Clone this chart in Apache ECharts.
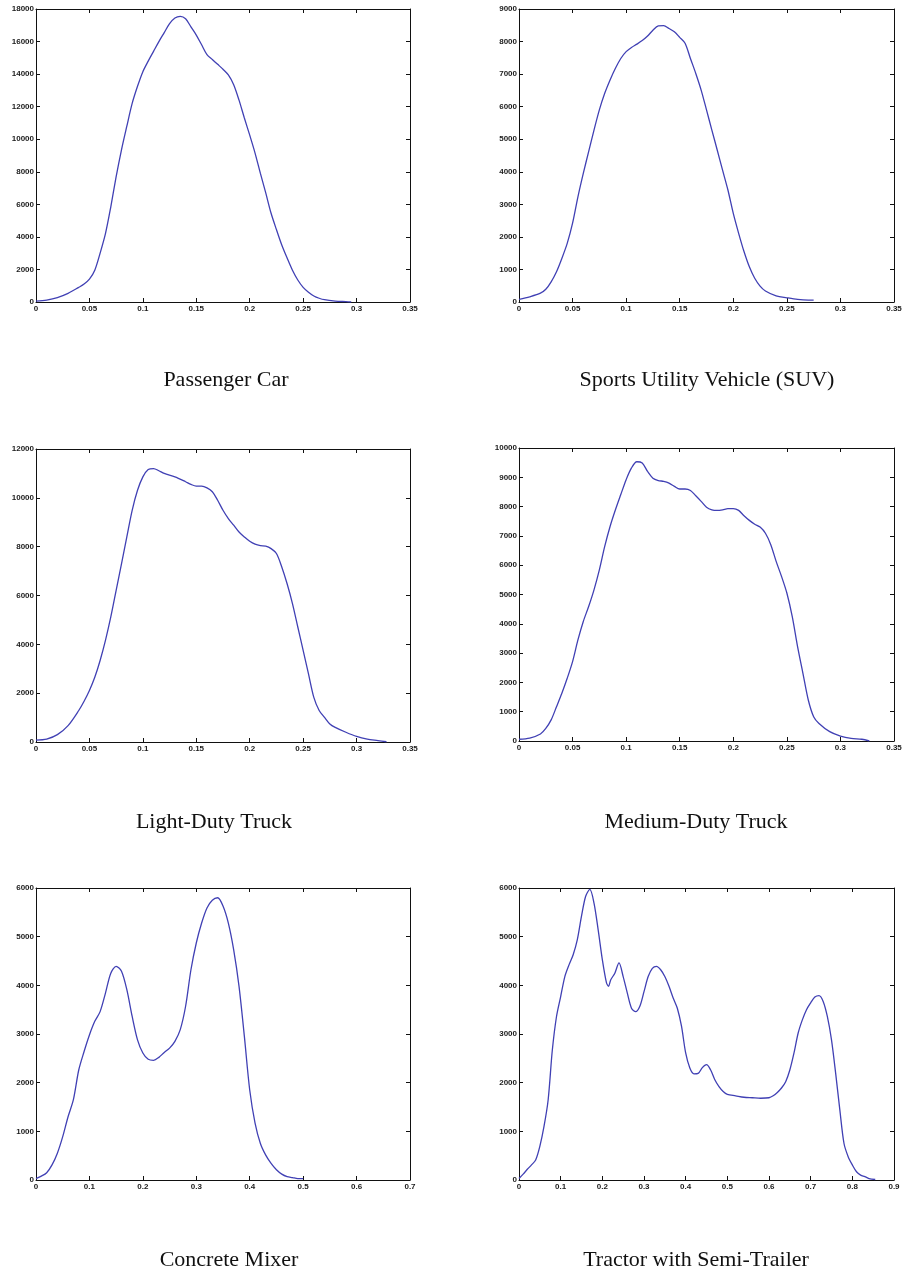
<!DOCTYPE html>
<html>
<head>
<meta charset="utf-8">
<script src="https://cdn.jsdelivr.net/npm/echarts@6/dist/echarts.min.js"></script>
<style>
  html, body { margin: 0; padding: 0; background: #ffffff; }
  #chart { width: 906px; height: 1278px; }
</style>
</head>
<body>
<div id="chart"></div>
<script>
// Passenger Car
const carX = [0, 0.01, 0.02, 0.03, 0.04, 0.045, 0.05, 0.055, 0.06, 0.065, 0.07, 0.075, 0.08, 0.085, 0.09, 0.095, 0.1, 0.105, 0.11, 0.115, 0.12, 0.125, 0.13, 0.135, 0.14, 0.145, 0.15, 0.155, 0.16, 0.165, 0.17, 0.175, 0.18, 0.185, 0.19, 0.195, 0.2, 0.205, 0.21, 0.215, 0.22, 0.225, 0.23, 0.235, 0.24, 0.245, 0.25, 0.255, 0.26, 0.265, 0.27, 0.28, 0.29, 0.295];
const carY = [50, 120, 270, 530, 900, 1100, 1400, 1950, 3000, 4200, 5850, 7700, 9350, 10800, 12200, 13250, 14150, 14800, 15400, 16000, 16550, 17100, 17450, 17550, 17400, 16900, 16400, 15800, 15200, 14900, 14600, 14300, 13950, 13350, 12400, 11300, 10250, 9150, 7900, 6700, 5450, 4450, 3500, 2700, 1950, 1350, 900, 600, 370, 230, 140, 60, 20, 0];

// Sports Utility Vehicle
const suvX = [0, 0.01, 0.02, 0.025, 0.03, 0.035, 0.04, 0.045, 0.05, 0.055, 0.06, 0.065, 0.07, 0.075, 0.08, 0.085, 0.09, 0.095, 0.1, 0.105, 0.11, 0.115, 0.12, 0.125, 0.13, 0.135, 0.14, 0.145, 0.15, 0.155, 0.16, 0.165, 0.17, 0.175, 0.18, 0.185, 0.19, 0.195, 0.2, 0.205, 0.21, 0.215, 0.22, 0.225, 0.23, 0.24, 0.25, 0.26, 0.27, 0.275];
const suvY = [80, 160, 270, 390, 620, 930, 1340, 1800, 2420, 3230, 3950, 4620, 5280, 5900, 6410, 6820, 7180, 7480, 7690, 7820, 7920, 8030, 8170, 8350, 8480, 8490, 8400, 8300, 8130, 7950, 7480, 7020, 6510, 5900, 5280, 4670, 4050, 3440, 2720, 2110, 1550, 1080, 730, 490, 340, 190, 130, 80, 60, 60];

// Light-Duty Truck
const ldtX = [0, 0.01, 0.02, 0.03, 0.04, 0.045, 0.05, 0.055, 0.06, 0.065, 0.07, 0.075, 0.08, 0.085, 0.09, 0.095, 0.1, 0.105, 0.11, 0.115, 0.12, 0.13, 0.14, 0.145, 0.15, 0.155, 0.16, 0.165, 0.17, 0.175, 0.18, 0.185, 0.19, 0.195, 0.2, 0.205, 0.21, 0.215, 0.22, 0.225, 0.23, 0.235, 0.24, 0.245, 0.25, 0.255, 0.26, 0.265, 0.27, 0.275, 0.28, 0.29, 0.3, 0.31, 0.32, 0.328];
const ldtY = [80, 120, 300, 670, 1290, 1670, 2110, 2650, 3340, 4160, 5120, 6210, 7300, 8400, 9490, 10310, 10860, 11160, 11200, 11110, 11000, 10860, 10660, 10550, 10480, 10480, 10410, 10250, 9900, 9490, 9150, 8880, 8600, 8400, 8220, 8100, 8040, 8020, 7920, 7720, 7170, 6480, 5670, 4710, 3750, 2790, 1830, 1290, 1010, 740, 600, 400, 230, 120, 60, 10];

// Medium-Duty Truck
const mdtX = [0, 0.01, 0.02, 0.025, 0.03, 0.035, 0.04, 0.045, 0.05, 0.055, 0.06, 0.065, 0.07, 0.075, 0.08, 0.085, 0.09, 0.095, 0.1, 0.105, 0.11, 0.115, 0.12, 0.125, 0.13, 0.135, 0.14, 0.145, 0.15, 0.155, 0.16, 0.165, 0.17, 0.175, 0.18, 0.185, 0.19, 0.195, 0.2, 0.205, 0.21, 0.215, 0.22, 0.225, 0.23, 0.235, 0.24, 0.245, 0.25, 0.255, 0.26, 0.265, 0.27, 0.275, 0.28, 0.29, 0.3, 0.31, 0.32, 0.327];
const mdtY = [60, 100, 240, 430, 720, 1170, 1630, 2140, 2710, 3450, 4080, 4590, 5160, 5840, 6640, 7320, 7890, 8410, 8920, 9320, 9530, 9490, 9200, 8970, 8890, 8860, 8800, 8690, 8600, 8600, 8550, 8370, 8180, 7980, 7890, 7870, 7890, 7930, 7930, 7870, 7690, 7530, 7400, 7300, 7090, 6700, 6130, 5620, 5050, 4250, 3220, 2310, 1400, 830, 600, 320, 170, 90, 60, 0];

// Concrete Mixer
const mixX = [0, 0.01, 0.02, 0.03, 0.04, 0.05, 0.06, 0.07, 0.08, 0.09, 0.1, 0.11, 0.12, 0.13, 0.14, 0.15, 0.16, 0.17, 0.18, 0.19, 0.2, 0.21, 0.22, 0.23, 0.24, 0.25, 0.26, 0.27, 0.28, 0.29, 0.3, 0.31, 0.32, 0.33, 0.34, 0.35, 0.36, 0.37, 0.38, 0.39, 0.4, 0.41, 0.42, 0.43, 0.44, 0.45, 0.46, 0.47, 0.48, 0.49, 0.5];
const mixY = [30, 80, 150, 310, 550, 890, 1300, 1650, 2260, 2640, 2980, 3260, 3460, 3840, 4250, 4390, 4290, 3910, 3360, 2880, 2610, 2480, 2460, 2520, 2620, 2710, 2850, 3090, 3570, 4320, 4870, 5280, 5590, 5750, 5800, 5630, 5280, 4730, 3980, 2950, 1850, 1170, 750, 510, 340, 210, 120, 70, 50, 30, 30];

// Tractor with Semi-Trailer
const semiX = [0, 0.01, 0.02, 0.03, 0.04, 0.05, 0.06, 0.07, 0.08, 0.09, 0.1, 0.11, 0.12, 0.13, 0.14, 0.15, 0.16, 0.17, 0.18, 0.19, 0.2, 0.21, 0.215, 0.22, 0.23, 0.24, 0.25, 0.26, 0.27, 0.28, 0.29, 0.3, 0.31, 0.32, 0.33, 0.34, 0.35, 0.36, 0.37, 0.38, 0.39, 0.4, 0.41, 0.42, 0.43, 0.44, 0.45, 0.46, 0.47, 0.48, 0.49, 0.5, 0.52, 0.54, 0.56, 0.58, 0.6, 0.61, 0.62, 0.63, 0.64, 0.65, 0.66, 0.67, 0.68, 0.69, 0.7, 0.71, 0.72, 0.73, 0.74, 0.75, 0.76, 0.77, 0.78, 0.79, 0.8, 0.81, 0.82, 0.83, 0.84, 0.855];
const semiY = [30, 120, 220, 310, 410, 690, 1100, 1650, 2670, 3360, 3770, 4180, 4420, 4630, 4940, 5420, 5830, 5970, 5690, 5140, 4530, 4050, 3980, 4110, 4250, 4460, 4180, 3840, 3530, 3460, 3570, 3870, 4180, 4350, 4390, 4320, 4180, 3980, 3740, 3530, 3160, 2610, 2300, 2180, 2190, 2310, 2370, 2260, 2060, 1920, 1820, 1760, 1730, 1700, 1690, 1680, 1690, 1730, 1800, 1890, 2020, 2260, 2610, 3020, 3290, 3500, 3640, 3760, 3790, 3670, 3360, 2880, 2190, 1440, 750, 480, 310, 170, 100, 70, 30, 10];

// Panel captions
const captions = ['Passenger Car', 'Sports Utility Vehicle (SUV)', 'Light-Duty Truck', 'Medium-Duty Truck', 'Concrete Mixer', 'Tractor with Semi-Trailer'];

// Axis ranges per panel
const xMaxes = [0.35, 0.35, 0.35, 0.35, 0.7, 0.9];
const xSteps = [0.05, 0.05, 0.05, 0.05, 0.1, 0.1];
const yMaxes = [18000, 9000, 12000, 10000, 6000, 6000];
const ySteps = [2000, 1000, 2000, 1000, 1000, 1000];

const xsList = [carX, suvX, ldtX, mdtX, mixX, semiX];
const ysList = [carY, suvY, ldtY, mdtY, mixY, semiY];

// Layout of the six plot boxes (pixels)
const boxes = [
  { left: 36, top: 9, width: 374, height: 293 },
  { left: 519, top: 9, width: 375, height: 293 },
  { left: 36, top: 449, width: 374, height: 293 },
  { left: 519, top: 448, width: 375, height: 293 },
  { left: 36, top: 888, width: 374, height: 292 },
  { left: 519, top: 888, width: 375, height: 292 }
];
const captionPos = [
  { x: 226, y: 369 }, { x: 707, y: 369 },
  { x: 214, y: 811 }, { x: 696, y: 811 },
  { x: 229, y: 1249 }, { x: 696, y: 1249 }
];

const LINE = '#4040b4';
const AXIS = '#111111';

function fmt(v) { return String(+v.toFixed(3)); }

const grid = [], xAxis = [], yAxis = [], series = [], title = [];

boxes.forEach((b, i) => {
  grid.push({ left: b.left, top: b.top, width: b.width, height: b.height, containLabel: false });
  const xBase = {
    gridIndex: i, type: 'value', min: 0, max: xMaxes[i], interval: xSteps[i],
    splitLine: { show: false },
    axisLine: { show: true, onZero: false, lineStyle: { color: AXIS, width: 1 } },
    axisTick: { show: true, inside: true, length: 4, lineStyle: { color: AXIS } }
  };
  const yBase = {
    gridIndex: i, type: 'value', min: 0, max: yMaxes[i], interval: ySteps[i],
    splitLine: { show: false },
    axisLine: { show: true, onZero: false, lineStyle: { color: AXIS, width: 1 } },
    axisTick: { show: true, inside: true, length: 4, lineStyle: { color: AXIS } }
  };
  const labelStyle = { show: true, fontSize: 8, fontWeight: 'bold', color: '#1a1a1a', fontFamily: 'Liberation Sans', formatter: fmt };
  xAxis.push(Object.assign({}, xBase, {
    position: 'bottom',
    axisLabel: Object.assign({ margin: 3 }, labelStyle)
  }));
  xAxis.push(Object.assign({}, xBase, { position: 'top', axisLabel: { show: false } }));
  yAxis.push(Object.assign({}, yBase, {
    position: 'left',
    axisLabel: Object.assign({ margin: 2 }, labelStyle)
  }));
  yAxis.push(Object.assign({}, yBase, { position: 'right', axisLabel: { show: false } }));

  const pts = xsList[i].map((x, k) => [x, ysList[i][k]]);
  series.push({
    type: 'line',
    xAxisIndex: 2 * i,
    yAxisIndex: 2 * i,
    data: pts,
    smooth: 0.3,
    showSymbol: false,
    symbol: 'none',
    lineStyle: { color: LINE, width: 1.3 },
    silent: true,
    animation: false
  });

  title.push({
    text: captions[i],
    left: captionPos[i].x,
    top: captionPos[i].y,
    textAlign: 'center',
    textStyle: { fontFamily: 'Liberation Serif', fontSize: 22, fontWeight: 'normal', color: '#111' },
    padding: 0
  });
});

const chart = echarts.init(document.getElementById('chart'), null, { renderer: 'canvas' });
chart.setOption({
  backgroundColor: '#ffffff',
  animation: false,
  title: title,
  grid: grid,
  xAxis: xAxis,
  yAxis: yAxis,
  series: series
});
</script>
</body>
</html>
